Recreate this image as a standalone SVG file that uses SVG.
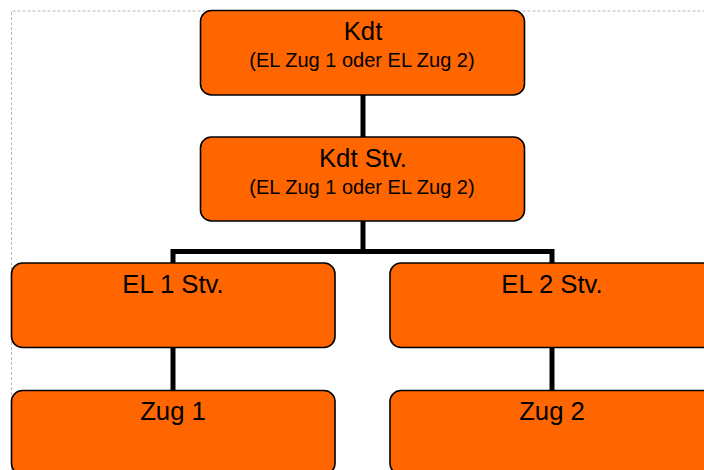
<svg xmlns="http://www.w3.org/2000/svg" width="704" height="470" viewBox="0 0 704 470">
<style>
.box{fill:#FF6600;stroke:#000;stroke-width:1.6}
.t{font-family:"Liberation Sans",Arial,sans-serif;fill:#000;text-anchor:middle}
.big{font-size:25.7px}
.small{font-size:20px}
.conn{fill:none;stroke:#000;stroke-width:5}
</style>
<rect width="704" height="470" fill="#fff"/>
<path d="M11.5,470 V11 H704" fill="none" stroke="#b8b8b8" stroke-width="1" stroke-dasharray="3,2"/>
<g id="connectors" class="conn">
<path d="M363,95 V137"/>
<path d="M363,221 V251.5"/>
<path d="M173,263 V251.5 H552 V263"/>
<path d="M173,347 V390"/>
<path d="M552,347 V390"/>
</g>
<g id="kdt">
<rect class="box" x="200.5" y="10.5" width="324" height="84.5" rx="11"/>
<text class="t big" x="363" y="40">Kdt</text>
<text class="t small" x="362" y="67.3">(EL Zug 1 oder EL Zug 2)</text>
</g>
<g id="kdt-stv">
<rect class="box" x="200.5" y="137" width="324" height="84" rx="11"/>
<text class="t big" x="363" y="167">Kdt Stv.</text>
<text class="t small" x="362" y="194">(EL Zug 1 oder EL Zug 2)</text>
</g>
<g id="el1-stv">
<rect class="box" x="11.5" y="263" width="323.5" height="84.5" rx="11"/>
<text class="t big" x="173" y="293">EL 1 Stv.</text>
</g>
<g id="el2-stv">
<rect class="box" x="390" y="263" width="324" height="84.5" rx="11"/>
<text class="t big" x="552" y="293">EL 2 Stv.</text>
</g>
<g id="zug1">
<rect class="box" x="11.5" y="390.5" width="323.5" height="84" rx="11"/>
<text class="t big" x="173" y="420">Zug 1</text>
</g>
<g id="zug2">
<rect class="box" x="390" y="390.5" width="324" height="84" rx="11"/>
<text class="t big" x="552" y="420">Zug 2</text>
</g>
</svg>
